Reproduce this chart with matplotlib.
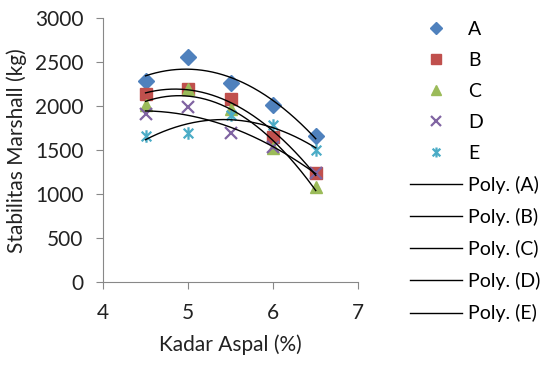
import numpy as np
import matplotlib
matplotlib.use("Agg")
import matplotlib.pyplot as plt
from matplotlib.path import Path

plt.rcParams['font.family'] = ['Lato', 'DejaVu Sans']

kadar = [4.5, 5.0, 5.5, 6.0, 6.5]
A = [2290, 2557, 2260, 2020, 1665]
B = [2140, 2200, 2080, 1655, 1240]
C = [2015, 2197, 1970, 1523, 1085]
D = [1913, 1989, 1693, 1540, 1245]
E = [1663, 1700, 1900, 1788, 1503]
names = ['A', 'B', 'C', 'D', 'E']
colors = ['#4F81BD', '#C0504D', '#9BBB59', '#8064A2', '#4BACC6']

star = Path([(-1, -1), (1, 1), (-1, 1), (1, -1), (0, -1.3), (0, 1.3)],
            [Path.MOVETO, Path.LINETO, Path.MOVETO, Path.LINETO, Path.MOVETO, Path.LINETO])
markers = ['D', 's', '^', 'x', star]
msizes = [8, 9, 9, 9, 9]

fig = plt.figure(figsize=(5.44, 3.65), dpi=100)
ax = fig.add_axes([103/544, 1-282.3/365, (358.3-103)/544, (282.3-18.3)/365])

series = [A, B, C, D, E]
handles = []
for ys, n, c, m, ms in zip(series, names, colors, markers, msizes):
    filled = m in ('D', 's', '^')
    if filled:
        h, = ax.plot(kadar, ys, linestyle='none', marker=m, markersize=ms,
                     color=c, markeredgecolor=c, label=n, zorder=3)
    else:
        h, = ax.plot(kadar, ys, linestyle='none', marker=m, markersize=ms,
                     color=c, markeredgewidth=1.6, label=n, zorder=3)
    handles.append(h)

xs = np.linspace(kadar[0], kadar[-1], 200)
for ys, n in zip(series, names):
    coef = np.polyfit(kadar, ys, 2)
    h, = ax.plot(xs, np.polyval(coef, xs), color='black', linewidth=1.0,
                 label='Poly. (%s)' % n, zorder=4)
    handles.append(h)

ax.set_xlim(4, 7)
ax.set_ylim(0, 3000)
ax.set_xticks([4, 5, 6, 7])
ax.set_yticks(range(0, 3001, 500))
for s in ['top', 'right']:
    ax.spines[s].set_visible(False)
for s in ['left', 'bottom']:
    ax.spines[s].set_color('#888888')
ax.tick_params(axis='both', direction='out', length=5, color='#888888',
               labelsize=15, labelcolor='#222222')
ax.tick_params(axis='x', pad=10)
ax.tick_params(axis='y', pad=9)
ax.set_xlabel('Kadar Aspal (%)', fontsize=15, color='#222222', labelpad=8)
ax.set_ylabel('Stabilitas Marshall (kg)', fontsize=15, color='#222222', labelpad=6)

leg = ax.legend(handles=handles, loc='upper left', bbox_to_anchor=(410/544, 1-21/365),
                bbox_transform=fig.transFigure, frameon=False, fontsize=14,
                handlelength=2.68, handletextpad=0.31, labelspacing=0.72,
                markerscale=0.8, borderaxespad=0, borderpad=0)

fig.savefig('out.png', dpi=100)
